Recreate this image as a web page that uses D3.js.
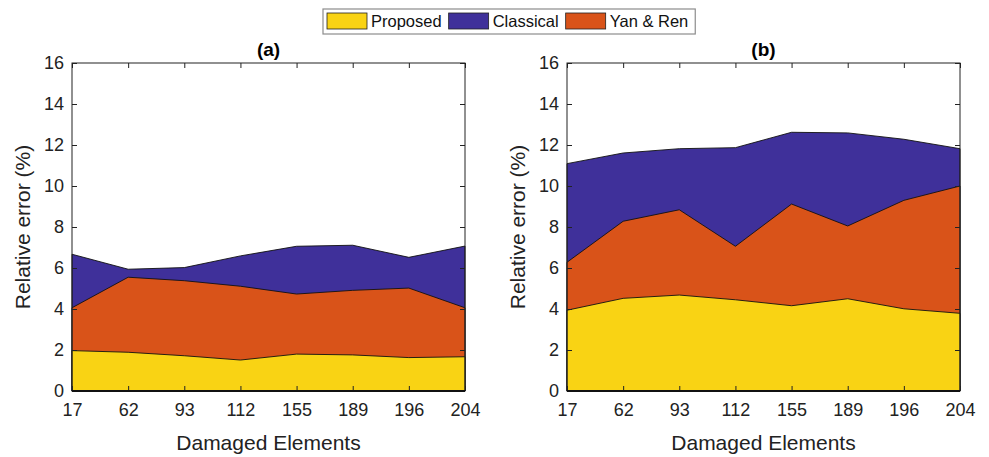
<!DOCTYPE html>
<html>
<head>
<meta charset="utf-8">
<script src="https://d3js.org/d3.v7.min.js"></script>
<style>
  body { margin: 0; background: #fff; }
  svg { display: block; font-family: "Liberation Sans", Arial, sans-serif; }
</style>
</head>
<body>
<div class="vis"></div>
<script>
  let width = 989
  let height = 457

  // damaged element ids on the x axis
  let elements = ['17', '62', '93', '112', '155', '189', '196', '204']
  let yTicks = [0, 2, 4, 6, 8, 10, 12, 14, 16]

  // panel (a)
  let proposedA = [1.97, 1.89, 1.72, 1.51, 1.80, 1.76, 1.63, 1.67]
  let yanRenA = [4.06, 5.55, 5.38, 5.11, 4.73, 4.91, 5.02, 4.06]
  let classicalA = [6.67, 5.94, 6.02, 6.59, 7.06, 7.11, 6.52, 7.07]

  // panel (b)
  let proposedB = [3.94, 4.52, 4.68, 4.45, 4.16, 4.50, 4.01, 3.79]
  let yanRenB = [6.28, 8.28, 8.84, 7.06, 9.12, 8.05, 9.30, 10.0]
  let classicalB = [11.09, 11.61, 11.82, 11.87, 12.62, 12.59, 12.28, 11.82]

  let series = ['Proposed', 'Classical', 'Yan & Ren']
  let colors = { 'Proposed': '#f9d314', 'Classical': '#3f309a', 'Yan & Ren': '#d95319' }

  let svg = d3.select('.vis').append('svg')
    .attr('width', width).attr('height', height)
    .attr('viewBox', [0, 0, width, height])

  let yTop = 63, yBottom = 391

  function panel(left, right, title, data) {
    let g = svg.append('g')

    let x = d3.scalePoint().domain(elements).range([left, right])
    let y = d3.scaleLinear().domain([0, 16]).range([yBottom, yTop])

    let area = d3.area()
      .x((d, i) => x(elements[i]))
      .y0(y(0))
      .y1(d => y(d))

    // larger errors first so the smaller areas sit on top
    let order = [['Classical', data.classical], ['Yan & Ren', data.yanRen], ['Proposed', data.proposed]]
    g.selectAll('path.area')
      .data(order)
      .join('path')
      .attr('class', 'area')
      .attr('d', d => area(d[1]))
      .attr('fill', d => colors[d[0]])
      .attr('stroke', '#111')
      .attr('stroke-width', 0.9)
      .attr('stroke-linejoin', 'round')

    let axisText = (sel) => sel.selectAll('text')
      .style('font-size', '18px').attr('fill', '#222')

    g.append('g')
      .attr('transform', `translate(0,${yBottom})`)
      .call(d3.axisBottom(x).tickSize(-5).tickPadding(12))
      .call(s => s.select('.domain').remove())
      .call(axisText)
    g.append('g')
      .attr('transform', `translate(0,${yTop})`)
      .call(d3.axisTop(x).tickSize(-5).tickFormat(''))
      .call(s => s.select('.domain').remove())
    g.append('g')
      .attr('transform', `translate(${left},0)`)
      .call(d3.axisLeft(y).tickValues(yTicks).tickSize(-5).tickPadding(8))
      .call(s => s.select('.domain').remove())
      .call(axisText)
    g.append('g')
      .attr('transform', `translate(${right},0)`)
      .call(d3.axisRight(y).tickValues(yTicks).tickSize(-5).tickFormat(''))
      .call(s => s.select('.domain').remove())

    g.selectAll('.tick line').attr('stroke', '#222')

    g.append('rect')
      .attr('x', left).attr('y', yTop)
      .attr('width', right - left).attr('height', yBottom - yTop)
      .attr('fill', 'none').attr('stroke', '#222').attr('stroke-width', 1)
    g.append('line')
      .attr('x1', left).attr('x2', right)
      .attr('y1', yBottom).attr('y2', yBottom)
      .attr('stroke', '#111').attr('stroke-width', 2)

    g.append('text')
      .attr('x', (left + right) / 2).attr('y', 56)
      .attr('text-anchor', 'middle')
      .style('font-size', '19px').style('font-weight', 'bold')
      .text(title)

    g.append('text')
      .attr('x', (left + right) / 2).attr('y', 450)
      .attr('text-anchor', 'middle')
      .style('font-size', '21px').attr('fill', '#222')
      .text('Damaged Elements')

    g.append('text')
      .attr('transform', `translate(${left - 42},${(yTop + yBottom) / 2})rotate(-90)`)
      .attr('text-anchor', 'middle')
      .style('font-size', '21px').attr('fill', '#222')
      .text('Relative error (%)')
  }

  panel(72, 465, '(a)', { proposed: proposedA, yanRen: yanRenA, classical: classicalA })
  panel(567, 960, '(b)', { proposed: proposedB, yanRen: yanRenB, classical: classicalB })

  // legend
  let legend = svg.append('g')
  let box = legend.append('rect')
    .attr('x', 323).attr('y', 9).attr('height', 25)
    .attr('fill', '#fff').attr('stroke', '#8c8c8c').attr('stroke-width', 1.2)
  let lx = 327
  series.forEach(s => {
    legend.append('rect')
      .attr('x', lx).attr('y', 13).attr('width', 40).attr('height', 16)
      .attr('fill', colors[s]).attr('stroke', '#222').attr('stroke-width', 0.8)
    let t = legend.append('text')
      .attr('x', lx + 44).attr('y', 27)
      .style('font-size', '16.5px').attr('fill', '#111')
      .text(s)
    lx += 44 + t.node().getComputedTextLength() + 7
  })
  box.attr('width', lx - 323)
</script>
</body>
</html>
